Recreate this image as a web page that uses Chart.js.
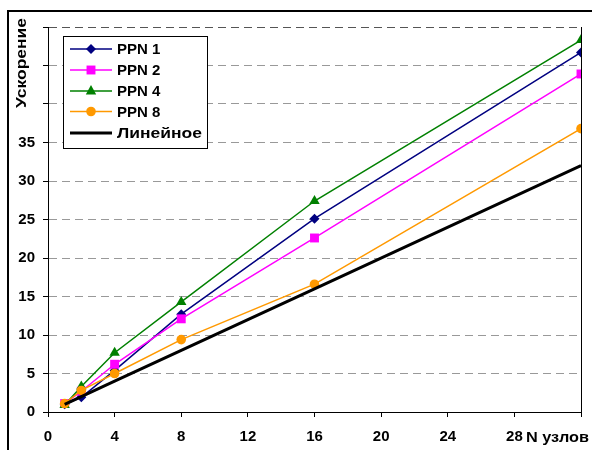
<!DOCTYPE html>
<html><head><meta charset="utf-8">
<script src="https://cdn.jsdelivr.net/npm/chart.js@4"></script>
<style>
html,body{margin:0;padding:0;background:#fff;overflow:hidden}
#wrap{position:relative;width:592px;height:450px}
#frame{position:absolute;left:7px;top:10px;width:620px;height:480px;border:2px solid #000;box-sizing:border-box;pointer-events:none}
canvas{position:absolute;left:0;top:0}
</style></head><body>
<div id="wrap"><canvas id="c" width="592" height="450"></canvas><div id="frame"></div></div>
<script>
const xValues = [1, 2, 4, 8, 16, 32];
const ppn1 = [1.0, 1.9, 5.4, 12.7, 25.1, 46.7];
const ppn2 = [1.1, 2.7, 6.2, 12.1, 22.6, 43.9];
const ppn4 = [0.9, 3.3, 7.7, 14.3, 27.4, 48.3];
const ppn8 = [1.1, 2.8, 5.0, 9.4, 16.6, 36.8];
const linear = [1, 2, 4, 8, 16, 32];
const seriesNames = ['PPN 1', 'PPN 2', 'PPN 4', 'PPN 8', 'Линейное'];
const xTitle = 'N узлов';
const yTitle = 'Ускорение';

const colors = ['#000080', '#ff00ff', '#008000', '#ff9900', '#000000'];
const styles = ['rectRot', 'rect', 'triangle', 'circle', false];
const radii = [5, 6.3, 6, 4.8, 0];
const widths = [1.5, 1.5, 1.5, 1.5, 3];
const seriesData = [ppn1, ppn2, ppn4, ppn8, linear];
const orders = [4, 3, 2, 1, 0];

const pts = arr => arr.map((v, i) => ({x: xValues[i], y: v}));

const datasets = seriesData.map((arr, i) => ({
  label: seriesNames[i],
  data: pts(arr),
  borderColor: colors[i],
  backgroundColor: colors[i],
  borderWidth: widths[i],
  pointStyle: styles[i],
  pointRadius: radii[i],
  pointBorderWidth: 0,
  pointHoverRadius: radii[i],
  tension: 0,
  order: orders[i]
}));

const FONT = 'bold 15px "Liberation Sans", Arial, sans-serif';

function stretchText(ctx, text, x, y, targetW, align) {
  const w = ctx.measureText(text).width;
  const s = targetW / w;
  ctx.save();
  ctx.translate(x, y);
  ctx.scale(s, 1);
  ctx.textAlign = align;
  ctx.fillText(text, 0, 0);
  ctx.restore();
}

function marker(ctx, style, x, y, r, color) {
  ctx.fillStyle = color;
  ctx.beginPath();
  if (style === 'rectRot') {
    ctx.moveTo(x, y - r); ctx.lineTo(x + r, y); ctx.lineTo(x, y + r); ctx.lineTo(x - r, y); ctx.closePath();
  } else if (style === 'rect') {
    const s = r * Math.SQRT1_2; ctx.rect(x - s, y - s, 2 * s, 2 * s);
  } else if (style === 'triangle') {
    ctx.moveTo(x, y - r); ctx.lineTo(x + r * 0.866, y + r * 0.5 + 0.5); ctx.lineTo(x - r * 0.866, y + r * 0.5 + 0.5); ctx.closePath();
  } else if (style === 'circle') {
    ctx.arc(x, y, r, 0, Math.PI * 2);
  } else return;
  ctx.fill();
}

const decor = {
  id: 'decor',
  afterDraw(chart) {
    const ctx = chart.ctx, a = chart.chartArea;
    ctx.save();
    ctx.strokeStyle = '#000'; ctx.lineWidth = 1;
    ctx.beginPath(); ctx.moveTo(a.right + 0.5, a.top); ctx.lineTo(a.right + 0.5, a.bottom); ctx.stroke();
    ctx.fillStyle = '#000';
    ctx.font = FONT;
    ctx.save();
    ctx.translate(22, 63);
    ctx.rotate(-Math.PI / 2);
    ctx.textBaseline = 'middle';
    stretchText(ctx, yTitle, 0, 0, 90, 'center');
    ctx.restore();
    ctx.textBaseline = 'alphabetic';
    stretchText(ctx, xTitle, 526, 442, 63, 'left');
    const lx = 63, ly = 36, lw = 144, lh = 112;
    ctx.fillStyle = '#fff';
    ctx.fillRect(lx, ly, lw, lh);
    ctx.strokeStyle = '#000'; ctx.lineWidth = 1;
    ctx.strokeRect(lx + 0.5, ly + 0.5, lw, lh);
    const rows = [49, 70, 91, 111.5, 133];
    seriesNames.forEach((name, i) => {
      const y = rows[i];
      ctx.strokeStyle = colors[i];
      ctx.lineWidth = widths[i];
      ctx.beginPath(); ctx.moveTo(70, y); ctx.lineTo(112, y); ctx.stroke();
      marker(ctx, styles[i], 91, y, radii[i], colors[i]);
      ctx.fillStyle = '#000';
      ctx.textBaseline = 'middle';
      ctx.font = FONT;
      if (i === 4) stretchText(ctx, name, 117, y + 1, 85, 'left');
      else { ctx.textAlign = 'left'; ctx.fillText(name, 117, y + 1); }
    });
    ctx.restore();
  }
};

new Chart(document.getElementById('c'), {
  type: 'line',
  data: {datasets},
  options: {
    responsive: false,
    animation: false,
    devicePixelRatio: 1,
    layout: {padding: {left: 0, top: 27, right: 9, bottom: 0}},
    plugins: {legend: {display: false}, tooltip: {enabled: false}},
    scales: {
      x: {
        type: 'linear', min: 0, max: 32,
        afterFit: s => { s.height = 38; },
        ticks: {stepSize: 4, color: '#000', font: {family: '"Liberation Sans", Arial', size: 15, weight: 'bold'}, padding: 11,
          callback: v => v === 32 ? '' : String(v), maxRotation: 0},
        grid: {drawOnChartArea: false, drawTicks: true, tickLength: 5, tickColor: '#000', tickWidth: 1},
        border: {color: '#000', width: 1}
      },
      y: {
        min: 0, max: 50,
        afterFit: s => { s.width = 48; },
        ticks: {stepSize: 5, color: '#000', font: {family: '"Liberation Sans", Arial', size: 15, weight: 'bold'}, padding: 8,
          callback: v => v > 35 ? '' : String(v)},
        grid: {
          drawTicks: true, tickLength: 5, tickColor: '#000', tickWidth: 1, tickBorderDash: [],
          color: c => c.tick && c.tick.value === 0 ? 'rgba(0,0,0,0)' : (c.tick && c.tick.value === 50 ? '#555' : '#999'),
          lineWidth: 1
        },
        border: {color: '#000', width: 1, dash: [8, 5]}
      }
    }
  },
  plugins: [decor]
});
</script>
</body></html>
